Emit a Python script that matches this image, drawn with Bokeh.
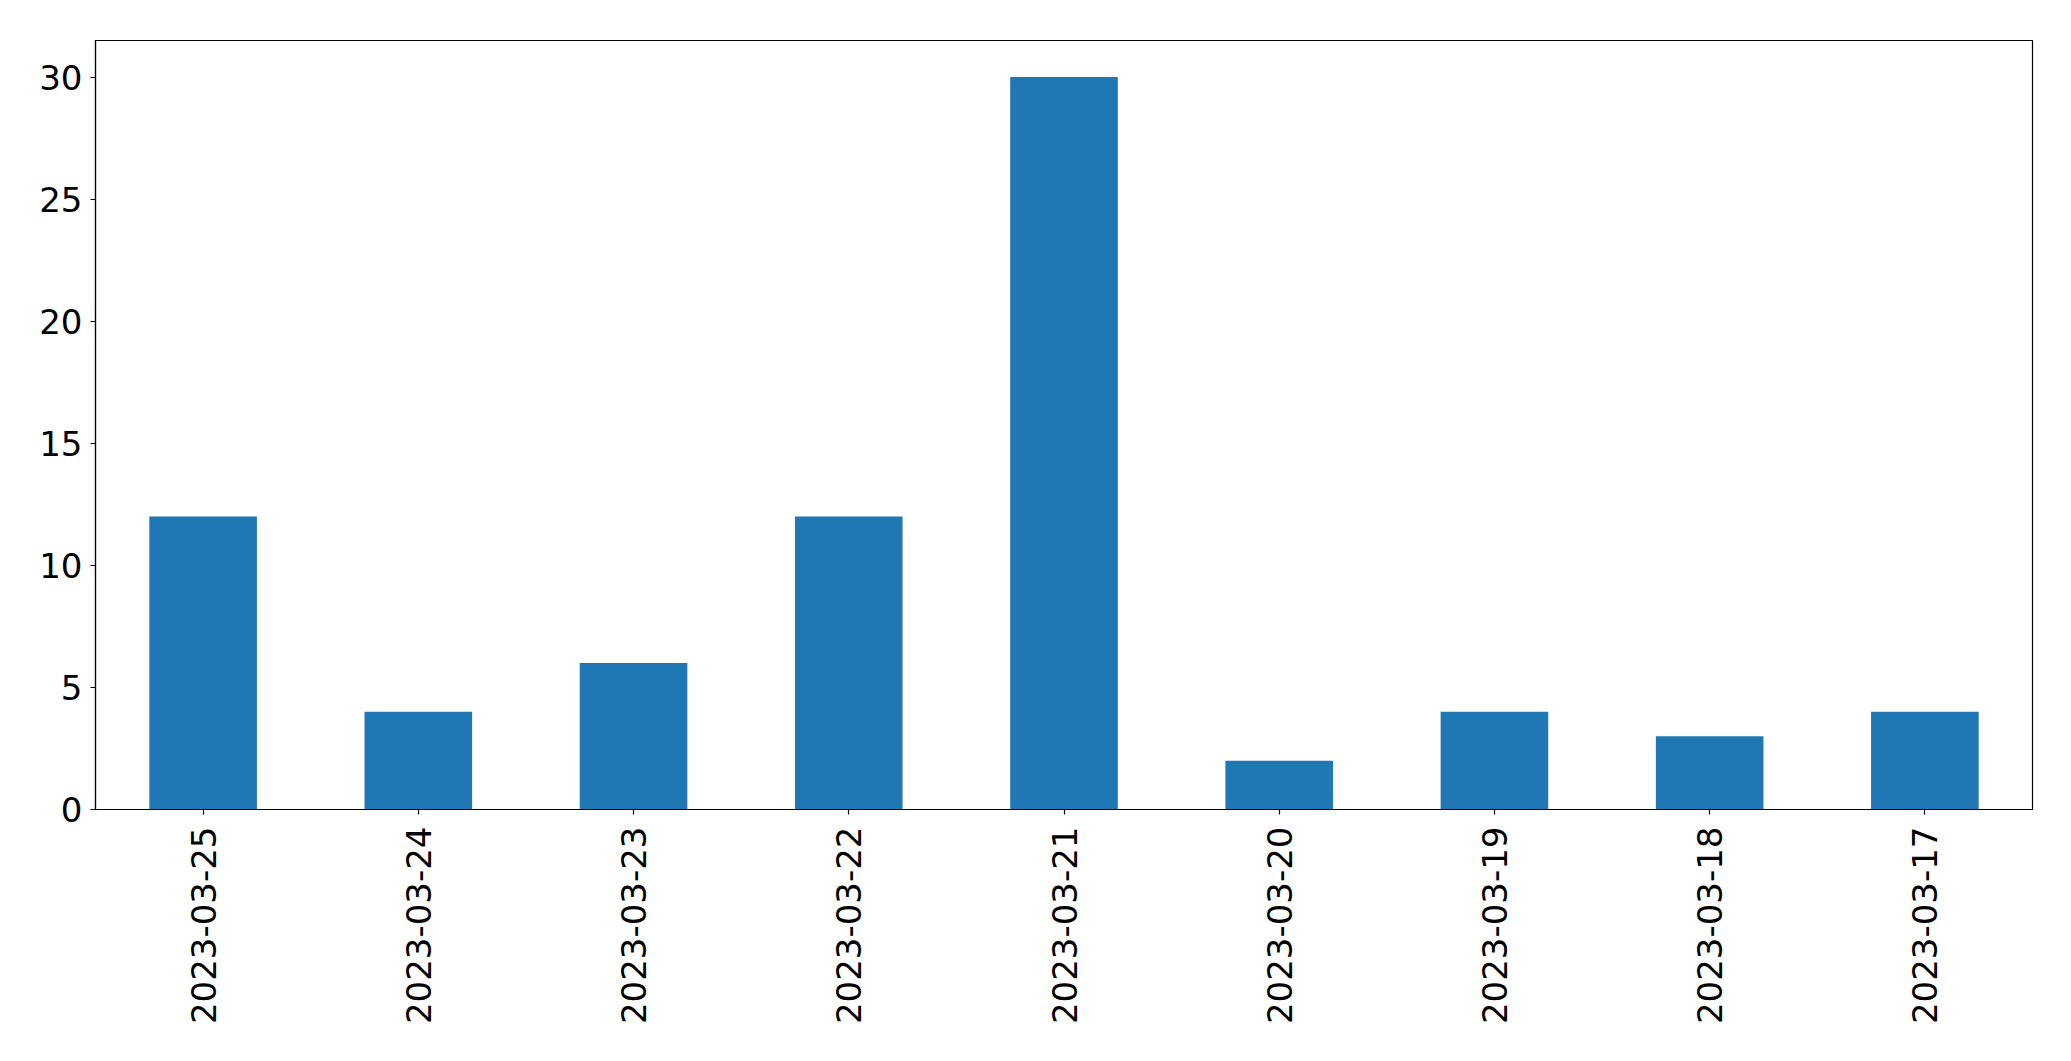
import math
from bokeh.plotting import figure
from bokeh.models import FixedTicker, Range1d, ColumnDataSource
from bokeh.embed import file_html
from bokeh.resources import INLINE

dates = ["2023-03-25", "2023-03-24", "2023-03-23", "2023-03-22", "2023-03-21",
         "2023-03-20", "2023-03-19", "2023-03-18", "2023-03-17"]
counts = [12, 4, 6, 12, 30, 2, 4, 3, 4]
y_ticks = [0, 5, 10, 15, 20, 25, 30]

source = ColumnDataSource(data=dict(date=dates, count=counts))

p = figure(x_range=dates, y_range=Range1d(0, 31.5),
           width=2063, height=1053, output_backend="svg", toolbar_location=None,
           min_border_left=95, min_border_right=31, min_border_top=40, min_border_bottom=244)

p.vbar(x="date", top="count", width=0.5, source=source, color="#1f77b4", line_color=None)

p.xgrid.grid_line_color = None
p.ygrid.grid_line_color = None
p.outline_line_color = "black"
p.outline_line_width = 1.2

for ax in (p.xaxis, p.yaxis):
    ax.axis_line_color = "black"
    ax.axis_line_width = 1.2
    ax.major_tick_line_color = "black"
    ax.major_tick_line_width = 1.2
    ax.major_tick_out = 5
    ax.major_tick_in = 0
    ax.minor_tick_line_color = None
    ax.major_label_text_font = "DejaVu Sans"
    ax.major_label_text_font_size = "34px"
    ax.major_label_text_color = "black"

p.yaxis.ticker = FixedTicker(ticks=y_ticks)
p.yaxis.major_label_standoff = 8
p.xaxis.major_label_orientation = math.pi / 2
p.xaxis.major_label_standoff = 12

open("out.html", "w").write(file_html(p, INLINE))
